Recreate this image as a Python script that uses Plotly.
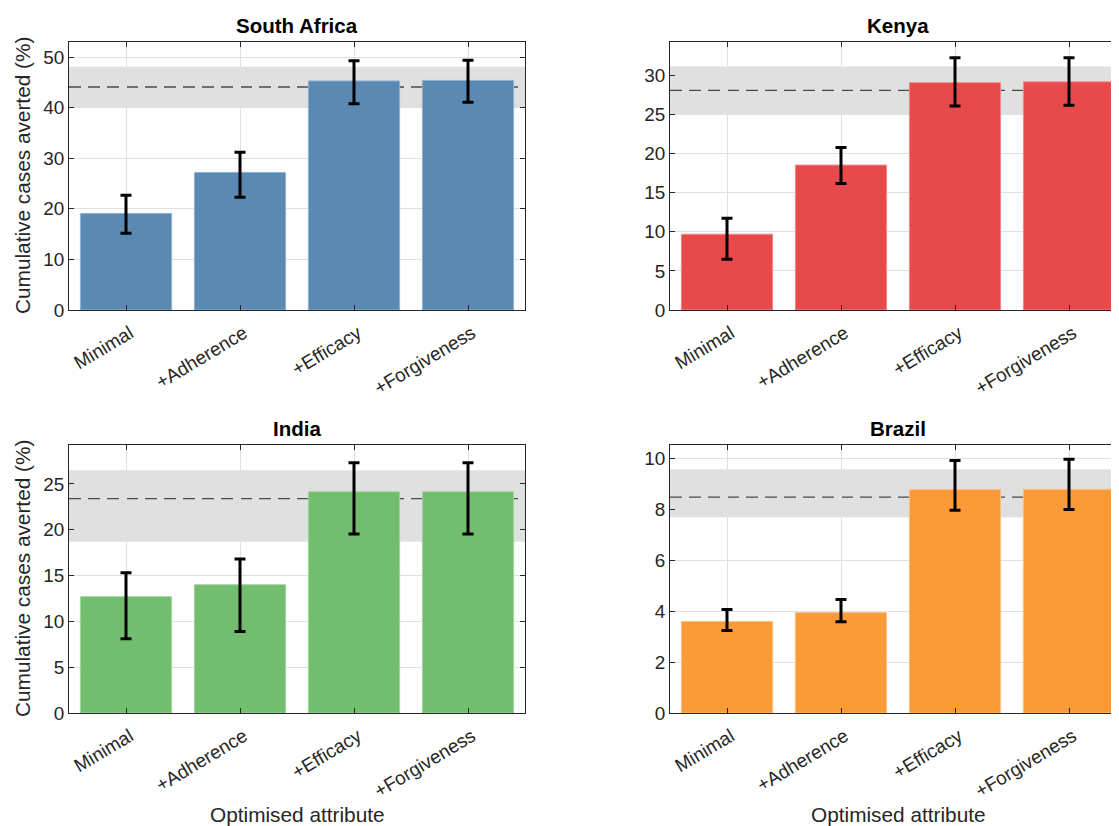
import plotly.graph_objects as go

OFF = 8  # page body margin in the viewer
W, H = 1119 - OFF, 826 - OFF

categories = ["Minimal", "+Adherence", "+Efficacy", "+Forgiveness"]
countries = ["South Africa", "Kenya", "India", "Brazil"]

sa_mean = [19.1, 27.2, 45.3, 45.4]
sa_low = [15.2, 22.3, 40.8, 41.1]
sa_high = [22.7, 31.2, 49.3, 49.4]
sa_ref = [40.0, 44.1, 48.1]   # band low, line, band high

ke_mean = [9.7, 18.55, 29.1, 29.2]
ke_low = [6.5, 16.2, 26.1, 26.2]
ke_high = [11.75, 20.8, 32.3, 32.3]
ke_ref = [24.95, 28.1, 31.15]

in_mean = [12.7, 14.0, 24.15, 24.15]
in_low = [8.1, 8.9, 19.55, 19.55]
in_high = [15.3, 16.8, 27.3, 27.3]
in_ref = [18.7, 23.4, 26.5]

br_mean = [3.59, 3.94, 8.77, 8.78]
br_low = [3.24, 3.58, 7.96, 7.99]
br_high = [4.06, 4.46, 9.91, 9.96]
br_ref = [7.68, 8.47, 9.57]

y_max = [53.0, 34.3, 29.25, 10.52]
y_dtick = [10, 5, 5, 2]

colors = ["#5a8ab4", "#e8494a", "#72bd6e", "#fd9a38"]
edge_colors = ["#8fb0cf", "#f08a8a", "#a2d49f", "#fdbf80"]

means = [sa_mean, ke_mean, in_mean, br_mean]
lows = [sa_low, ke_low, in_low, br_low]
highs = [sa_high, ke_high, in_high, br_high]
refs = [sa_ref, ke_ref, in_ref, br_ref]

# pixel layout (page coordinates)
col_x = [(69, 525), (670, 1119)]
row_y = [(42, 310), (445, 713)]
x_ranges = [[-0.5, 3.5], [-0.5, 3.5 - 7 / 114]]

FONT = "Liberation Sans, Arial, sans-serif"
TXT = "#262626"


def px(x):
    return (x - OFF) / W


def py(y):
    return 1 - (y - OFF) / H


fig = go.Figure()
annotations = []
shapes = []

for i in range(4):
    r, c = divmod(i, 2)
    n = "" if i == 0 else str(i + 1)
    xa, ya = "x" + n, "y" + n
    m, lo, hi = means[i], lows[i], highs[i]
    fig.add_trace(go.Bar(
        x=categories, y=m, xaxis=xa, yaxis=ya,
        marker=dict(color=colors[i], line=dict(color=edge_colors[i], width=1)),
        error_y=dict(type="data", symmetric=False,
                     array=[h - v for h, v in zip(hi, m)],
                     arrayminus=[v - l for v, l in zip(m, lo)],
                     color="black", thickness=3, width=5.5),
        showlegend=False, hoverinfo="skip"))
    x0, x1 = col_x[c]
    ytop, ybot = row_y[r]
    fig.layout["xaxis" + n] = dict(
        domain=[px(x0), min(px(x1), 1.0)], anchor=ya, type="category",
        range=x_ranges[c], tickangle=-31, ticks="inside", ticklen=5,
        tickcolor=TXT, showline=True, linecolor=TXT, linewidth=1,
        mirror="ticks", showgrid=True, gridcolor="#e0e0e0",
        ticklabelshift=4, ticklabelstandoff=4,
        tickfont=dict(size=18.9, color=TXT, family=FONT), automargin=False)
    fig.layout["yaxis" + n] = dict(
        domain=[py(ybot), py(ytop)], anchor=xa,
        range=[0, y_max[i]], dtick=y_dtick[i], ticks="inside", ticklen=5,
        tickcolor=TXT, showline=True, linecolor=TXT, linewidth=1,
        mirror="ticks" if c == 0 else False, showgrid=True,
        gridcolor="#e0e0e0", zeroline=False,
        tickfont=dict(size=18.9, color=TXT, family=FONT), automargin=False)
    lo_b, line_v, hi_b = refs[i]
    shapes.append(dict(type="rect", xref=xa + " domain", yref=ya,
                       x0=0, x1=1, y0=lo_b, y1=hi_b, fillcolor="#e0e0e0",
                       line=dict(width=0), layer="below"))
    shapes.append(dict(type="line", xref=xa + " domain", yref=ya,
                       x0=0, x1=0.985, y0=line_v, y1=line_v,
                       line=dict(color="#4a4a4a", width=1.3, dash="12px,7px"),
                       layer="below"))
    cx = x0 + 228
    annotations.append(dict(text="<b>" + countries[i] + "</b>", xref="paper",
                            yref="paper", x=px(cx), y=py(ytop - 17),
                            xanchor="center", yanchor="middle", showarrow=False,
                            font=dict(size=20.5, color="black", family=FONT)))
    if c == 0:
        annotations.append(dict(text="Cumulative cases averted (%)", xref="paper",
                                yref="paper", x=px(22), y=py((ytop + ybot) / 2),
                                xanchor="center", yanchor="middle", textangle=-90,
                                showarrow=False,
                                font=dict(size=20.8, color=TXT, family=FONT)))
    if r == 1:
        annotations.append(dict(text="Optimised attribute", xref="paper",
                                yref="paper", x=px(cx), y=py(814),
                                xanchor="center", yanchor="middle",
                                showarrow=False,
                                font=dict(size=20.8, color=TXT, family=FONT)))

fig.update_layout(width=W, height=H, margin=dict(l=0, r=0, t=0, b=0),
                  paper_bgcolor="white", plot_bgcolor="white",
                  bargap=0.2, annotations=annotations, shapes=shapes,
                  font=dict(family=FONT, color=TXT))

fig.write_html("out.html")
